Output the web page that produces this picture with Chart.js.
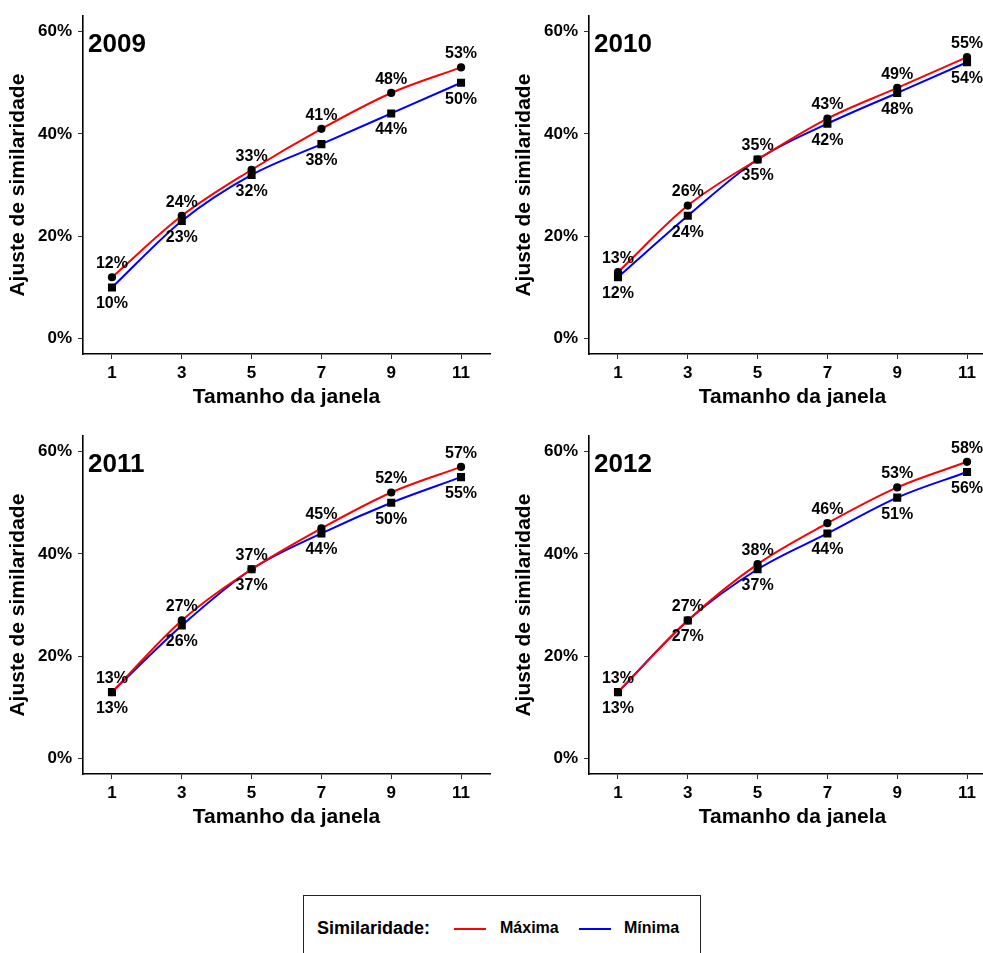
<!DOCTYPE html>
<html lang="pt">
<head>
<meta charset="utf-8">
<title>Ajuste de similaridade por tamanho da janela</title>
<script src="https://cdn.jsdelivr.net/npm/chart.js@4/dist/chart.umd.min.js"></script>
<style>
  html, body { margin: 0; padding: 0; background: #fff; overflow: hidden; }
  body { width: 983px; height: 953px; position: relative; font-family: "Liberation Sans", Arial, sans-serif; }
  canvas.panel { position: absolute; }
  #legend {
    position: absolute; left: 303px; top: 895px; width: 398px; height: 80px;
    border: 1.5px solid #222; box-sizing: border-box;
  }
  #legend .ttl { position: absolute; left: 13px; top: 22px; font-weight: bold; font-size: 18px; color: #000; }
  #legend .key { position: absolute; top: 32px; width: 32px; height: 2px; }
  #legend .lbl { position: absolute; top: 23px; font-weight: bold; font-size: 16px; color: #000; }
</style>
</head>
<body>
<canvas class="panel" id="p2009" width="500" height="420" style="left:0px;top:0px"></canvas>
<canvas class="panel" id="p2010" width="500" height="420" style="left:506px;top:0px"></canvas>
<canvas class="panel" id="p2011" width="500" height="420" style="left:0px;top:420px"></canvas>
<canvas class="panel" id="p2012" width="500" height="420" style="left:506px;top:420px"></canvas>
<div id="legend"></div>
<script>
// Window sizes on the x axis
const windowSizes = [1, 3, 5, 7, 9, 11];
// Percentage ticks on the y axis
const yTicks = [0, 20, 40, 60];
const years = ['2009', '2010', '2011', '2012'];

// Similarity fit (%) for each year: maximum and minimum similarity
const max2009 = [12, 24, 33, 41, 48, 53];
const min2009 = [10, 23, 32, 38, 44, 50];
const max2010 = [13, 26, 35, 43, 49, 55];
const min2010 = [12, 24, 35, 42, 48, 54];
const max2011 = [13, 27, 37, 45, 52, 57];
const min2011 = [13, 26, 37, 44, 50, 55];
const max2012 = [13, 27, 38, 46, 53, 58];
const min2012 = [13, 27, 37, 44, 51, 56];

const seriesNames = ['Máxima', 'Mínima'];
const seriesColors = ['#ff0000', '#0000ff'];
const legendTitle = 'Similaridade:';

const panelData = {
  '2009': [max2009, min2009],
  '2010': [max2010, min2010],
  '2011': [max2011, min2011],
  '2012': [max2012, min2012]
};

const FONT = '"Liberation Sans", Arial, sans-serif';

// Value labels: above the max points, below the min points
const valueLabels = {
  id: 'valueLabels',
  afterDatasetsDraw(chart) {
    const ctx = chart.ctx;
    ctx.save();
    ctx.font = 'bold 16px ' + FONT;
    ctx.fillStyle = '#000';
    ctx.textAlign = 'center';
    ctx.textBaseline = 'middle';
    chart.data.datasets.forEach((ds, i) => {
      const meta = chart.getDatasetMeta(i);
      const dy = ds.labelOffset;
      meta.data.forEach((pt, j) => {
        ctx.fillText(ds.data[j].y + '%', pt.x, pt.y + dy);
      });
    });
    ctx.restore();
  }
};

// Year tag in the top-left corner of the plotting area
const yearTag = {
  id: 'yearTag',
  afterDraw(chart, args, opts) {
    const ctx = chart.ctx;
    ctx.save();
    ctx.font = 'bold 26px ' + FONT;
    ctx.fillStyle = '#000';
    ctx.textAlign = 'left';
    ctx.textBaseline = 'middle';
    ctx.fillText(opts.text, chart.chartArea.left + 5, chart.chartArea.top + 29);
    ctx.restore();
  }
};

function makePanel(year) {
  const [maxVals, minVals] = panelData[year];
  const toPoints = vals => windowSizes.map((w, i) => ({ x: w, y: vals[i] }));
  new Chart(document.getElementById('p' + year), {
    type: 'line',
    data: {
      datasets: [
        {
          label: seriesNames[0], data: toPoints(maxVals),
          borderColor: seriesColors[0], borderWidth: 2,
          pointStyle: 'circle', pointRadius: 4.1,
          pointBackgroundColor: '#000', pointBorderColor: '#000', pointBorderWidth: 0,
          cubicInterpolationMode: 'monotone', labelOffset: -13.5
        },
        {
          label: seriesNames[1], data: toPoints(minVals),
          borderColor: seriesColors[1], borderWidth: 2,
          pointStyle: 'rect', pointRadius: 5.7,
          pointBackgroundColor: '#000', pointBorderColor: '#000', pointBorderWidth: 0,
          cubicInterpolationMode: 'monotone', labelOffset: 16.5
        }
      ]
    },
    options: {
      responsive: false,
      animation: false,
      devicePixelRatio: 1,
      layout: { padding: { top: 15, right: 10, left: 0, bottom: 0 } },
      plugins: {
        legend: { display: false },
        tooltip: { enabled: false },
        yearTag: { text: year }
      },
      scales: {
        x: {
          type: 'linear', min: 0.17, max: 11.83,
          afterBuildTicks: s => { s.ticks = windowSizes.map(v => ({ value: v })); },
          afterFit: s => { s.height = 66; },
          ticks: { color: '#000', font: { family: FONT, size: 17, weight: 'bold' }, padding: 4, maxRotation: 0 },
          grid: { drawOnChartArea: false, drawTicks: true, tickLength: 5, color: '#333', lineWidth: 1 },
          border: { display: true, color: '#000', width: 1.6 },
          title: { display: true, text: 'Tamanho da janela', color: '#000',
                   font: { family: FONT, size: 21, weight: 'bold' }, padding: { top: 0, bottom: 10 } }
        },
        y: {
          type: 'linear', min: -3, max: 63,
          afterBuildTicks: s => { s.ticks = yTicks.map(v => ({ value: v })); },
          afterFit: s => { s.width = 83; },
          ticks: { color: '#000', font: { family: FONT, size: 17, weight: 'bold' }, padding: 6,
                   callback: v => v + '%' },
          grid: { drawOnChartArea: false, drawTicks: true, tickLength: 5, color: '#333', lineWidth: 1 },
          border: { display: true, color: '#000', width: 1.6 },
          title: { display: true, text: 'Ajuste de similaridade', color: '#000',
                   font: { family: FONT, size: 21, weight: 'bold' }, padding: { top: 6, bottom: 0 } }
        }
      }
    },
    plugins: [valueLabels, yearTag]
  });
}

years.forEach(makePanel);

// Shared legend below the panels
(function buildLegend() {
  const box = document.getElementById('legend');
  const t = document.createElement('div');
  t.className = 'ttl'; t.textContent = legendTitle;
  box.appendChild(t);
  const keyLeft = [150, 275];
  const lblLeft = [196, 320];
  seriesNames.forEach((name, i) => {
    const k = document.createElement('div');
    k.className = 'key'; k.style.left = keyLeft[i] + 'px'; k.style.background = seriesColors[i];
    box.appendChild(k);
    const l = document.createElement('div');
    l.className = 'lbl'; l.style.left = lblLeft[i] + 'px'; l.textContent = name;
    box.appendChild(l);
  });
})();
</script>
</body>
</html>
